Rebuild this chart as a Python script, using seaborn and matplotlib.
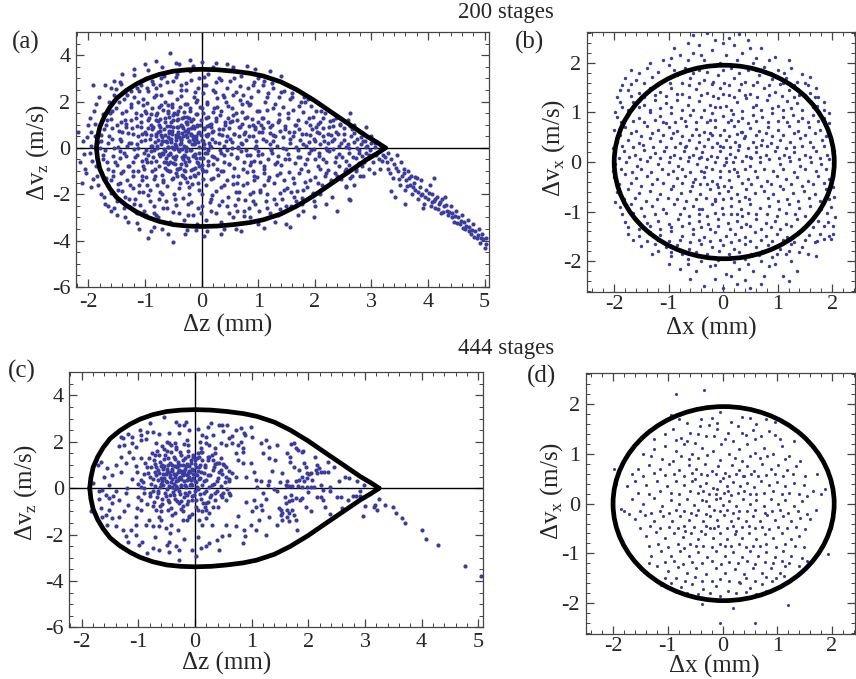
import numpy as np
import pandas as pd
import seaborn as sns
import matplotlib
matplotlib.use("Agg")
import matplotlib.pyplot as plt
from matplotlib.patches import Ellipse
from matplotlib.ticker import MultipleLocator

# ---------------- data ----------------
titles = ["200 stages", "444 stages"]
panel_tags = ["(a)", "(b)", "(c)", "(d)"]

# separatrix (longitudinal)
sep_z = [-1.86, -1.84, -1.80, -1.72, -1.62, -1.50, -1.33, -1.15, -0.97, -0.75, -0.50, -0.25, 0.0,
         0.28, 0.56, 0.85, 1.09, 1.40, 1.68, 1.99, 2.33, 2.62, 2.92, 3.10, 3.25]
sep_v_up = [0.0, 0.45, 0.90, 1.35, 1.76, 2.14, 2.48, 2.76, 2.98, 3.17, 3.31, 3.37, 3.39,
            3.37, 3.31, 3.22, 3.10, 2.85, 2.51, 2.05, 1.48, 1.00, 0.50, 0.24, 0.0]
sep_v_dn = [-0.0, -0.45, -0.90, -1.35, -1.76, -2.14, -2.48, -2.76, -2.98, -3.17, -3.31, -3.37, -3.39,
            -3.37, -3.31, -3.22, -3.10, -2.85, -2.51, -2.05, -1.48, -1.00, -0.50, -0.24, -0.0]

# transverse acceptance ellipse (center, full width, full height)
ell_center = (0.02, 0.0)
ell_width = 4.04
ell_height = 3.9

pts_a1 = [
(-0.95,1.2),(-0.92,0.4),(-0.9,-0.6),(-0.88,1.7),(-0.86,0.9),(-0.85,-0.1),(-0.83,-1.2),(-0.81,0.6),(-0.8,1.4),(-0.78,0.1),
(-0.76,-0.8),(-0.75,1.0),(-0.73,-0.35),(-0.72,1.85),(-0.7,0.45),(-0.69,-1.4),(-0.67,0.8),(-0.66,-0.05),(-0.64,1.3),(-0.63,-0.6),
(-0.61,0.25),(-0.6,1.6),(-0.58,-1.0),(-0.57,0.65),(-0.55,-0.25),(-0.54,1.1),(-0.52,0.05),(-0.51,-1.3),(-0.5,0.9),(-0.48,1.5),
(-0.47,-0.5),(-0.46,0.35),(-0.44,-0.9),(-0.43,1.2),(-0.42,0.6),(-0.4,-0.15),(-0.39,1.75),(-0.38,0.15),(-0.36,-0.7),(-0.35,0.95),
(-0.34,-1.15),(-0.33,0.5),(-0.31,1.35),(-0.3,-0.35),(-0.29,0.75),(-0.27,0.0),(-0.26,-1.45),(-0.25,1.05),(-0.23,0.3),(-0.22,-0.55),
(-0.21,1.6),(-0.19,0.55),(-0.18,-0.95),(-0.17,0.15),(-0.15,1.25),(-0.14,-0.3),(-0.13,0.85),(-0.11,-1.2),(-0.1,0.4),(-0.09,1.45),
(-0.07,-0.65),(-0.06,0.65),(-0.05,0.05),(-0.03,1.0),(-0.02,-0.45),(0.0,1.7),(0.02,0.3),(0.03,-1.0),(0.05,0.8),(0.06,-0.2),
(0.08,1.3),(0.1,0.5),(0.11,-0.75),(0.13,1.0),(0.15,0.1),(0.17,-1.35),(0.19,0.7),(0.2,1.55),(0.22,-0.4),(0.24,0.25),
(0.26,1.15),(0.28,-0.9),(0.3,0.6),
(-0.68,0.3),(-0.65,0.55),(-0.62,0.95),(-0.6,-0.3),(-0.59,0.05),(-0.56,0.4),(-0.53,0.75),(-0.5,1.2),(-0.49,-0.05),(-0.45,0.55),
(-0.41,0.9),(-0.37,0.35),(-0.35,-0.4),(-0.32,0.1),(-0.28,1.1),(-0.24,0.7),(-0.2,-0.1),(-0.16,0.5),(-0.12,0.2),(-0.08,0.95),
(-0.04,-0.2),(-0.01,0.55),(-0.58,1.35),(-0.47,0.15),(-0.44,1.45),(-0.4,0.45),(-0.33,0.85),(-0.29,-0.6),(-0.25,0.45),(-0.22,1.3),
(-0.18,0.85),(-0.14,0.35),(-0.1,-0.45),(-0.7,-0.2),(-0.74,0.75),(-0.77,1.15),(-0.82,0.25),(-0.64,-0.85),(-0.55,-0.6),(-0.46,-1.1),
(-0.38,-0.85),(-0.3,-1.0),(-0.2,-1.25),(-0.12,-0.85),(-0.06,-1.5),(0.0,-0.75),(0.04,0.15),(0.07,0.55),(0.12,-0.1),(0.16,0.9),
(-0.9,0.1),(-0.95,-0.3),(-1.0,0.7),(-1.02,-0.9),(-0.98,1.5),(-0.52,1.9),(-0.3,1.9),(-0.1,2.0),(0.1,1.9),
(-1.78,0.3),(-1.75,-0.5),(-1.72,0.8),(-1.7,-0.1),(-1.68,1.2),(-1.66,-0.9),(-1.63,0.5),(-1.6,-1.4),(-1.58,1.6),(-1.55,0.0),
(-1.53,-0.6),(-1.5,1.0),(-1.48,-1.8),(-1.46,2.0),(-1.44,0.4),(-1.42,-1.1),(-1.4,1.5),(-1.38,-0.2),(-1.36,-2.1),(-1.34,0.9),
(-1.32,2.3),(-1.3,-0.8),(-1.28,0.2),(-1.26,-1.6),(-1.24,1.9),(-1.22,0.6),(-1.2,-2.4),(-1.18,-0.4),(-1.16,1.3),(-1.14,2.6),
(-1.12,0.0),(-1.1,-1.9),(-1.08,0.9),(-1.06,-1.2),(-1.04,2.1),(-1.02,-2.7),(-1.0,1.6),(-0.98,-0.5),(-1.15,-2.8),(-1.25,2.45),
(-1.45,-1.5),(-1.62,1.5),(-1.69,-1.3),(-1.57,-1.0),(-1.35,1.2),(-1.21,-1.0),
(-0.96,2.6),(-0.92,-2.3),(-0.88,2.9),(-0.85,-2.8),(-0.8,2.3),(-0.77,-3.0),(-0.73,2.7),(-0.7,-2.0),(-0.66,3.1),(-0.62,-2.6),
(-0.58,2.4),(-0.55,-3.2),(-0.5,2.9),(-0.47,-2.2),(-0.43,3.2),(-0.4,-2.8),(-0.36,2.5),(-0.32,-3.1),(-0.28,2.8),(-0.24,-2.4),
(-0.2,3.3),(-0.16,-2.9),(-0.12,2.4),(-0.08,-3.3),(-0.04,3.0),(0.0,-2.5),(0.04,2.7),(0.08,-3.1),(0.12,3.2),(0.16,-2.2),
(0.2,2.5),(0.25,-2.8),(0.3,3.0),(0.35,-3.2),(0.4,2.2),(0.45,-2.5),(0.5,2.9),(0.55,-3.0),(0.6,2.4),(0.65,-2.2),
(0.7,3.1),(0.75,-2.7),(0.8,2.0),(0.85,-3.0),(0.9,2.7),(0.95,-2.4),(1.0,3.0),
(0.32,1.4),(0.35,-0.2),(0.38,0.8),(0.4,-1.6),(0.43,0.3),(0.46,1.8),(0.48,-0.7),(0.5,1.1),(0.53,0.0),(0.56,-1.2),
(0.58,0.6),(0.6,1.5),(0.63,-0.4),(0.66,-1.9),(0.68,0.9),(0.7,0.2),(0.73,-0.9),(0.76,1.3),(0.78,-0.1),(0.8,-1.5),
(0.83,0.5),(0.86,1.9),(0.88,-0.6),(0.9,1.0),(0.93,-1.2),(0.96,0.1),(0.98,1.6),(1.0,-0.3),(1.03,-1.8),(1.06,0.7),
(1.08,1.3),(1.1,-0.8),(1.13,0.3),(1.16,2.2),(1.18,-1.4),(1.2,0.9),(1.23,-0.1),(1.26,1.7),(1.28,-2.2),(1.3,0.5),
(1.33,-0.6),(1.36,1.2),(1.38,-1.1),(1.4,2.4),(1.43,0.0),(1.46,-1.8),(1.48,0.8),(1.5,-2.5),(1.15,-2.6),(1.25,2.8),
(1.35,-2.9),(1.1,2.9),(0.45,0.5),(0.55,1.4),(0.65,0.0),(0.75,0.6),(0.85,-0.3),(0.95,0.9),(0.35,-1.0),(0.42,1.1),
(0.62,-1.5),(0.72,1.9),(0.9,-1.9),(1.05,1.0),
(1.52,1.5),(1.55,-0.5),(1.57,0.4),(1.6,2.2),(1.62,-1.3),(1.65,1.0),(1.67,-2.3),(1.7,-0.1),(1.72,1.8),(1.75,-0.9),
(1.77,0.6),(1.8,-1.8),(1.82,2.0),(1.85,0.1),(1.87,-0.5),(1.9,1.3),(1.92,-1.4),(1.95,0.8),(1.97,-2.0),(2.0,0.3),
(2.02,1.6),(2.05,-0.8),(2.08,-0.2),(2.1,1.1),(2.12,-1.6),(2.15,0.5),(2.18,1.5),(2.2,-1.1),(2.22,-0.1),(2.25,0.9),
(2.28,-1.4),(2.3,0.3),(2.33,1.2),(2.35,-0.6),(2.38,0.7),(2.4,-1.2),(2.43,0.1),(2.45,1.0),(2.48,-0.4),(1.58,-1.9),
(1.68,2.5),(1.78,-2.4),(1.88,2.1),(1.98,-2.3),(2.1,-2.0),(1.64,0.7),(1.74,-0.4),(1.84,1.1),(1.94,-0.1),(2.04,0.7),
(2.14,-0.5),(2.24,0.6),
(2.52,0.6),(2.55,-0.9),(2.58,1.2),(2.6,0.0),(2.63,-1.3),(2.65,0.8),(2.68,-0.4),(2.7,1.0),(2.73,-1.0),(2.75,0.4),
(2.78,-0.2),(2.8,0.7),(2.83,-0.8),(2.86,0.3),(2.88,-0.5),(2.9,0.9),(2.93,0.1),(2.96,-0.3),(3.0,0.5),(3.03,-0.6),
(3.06,0.2),(3.1,-0.2),(3.13,-0.5),(3.17,0.1),(2.55,-1.7),(2.62,1.5),(2.7,-1.6),(2.85,-1.2),(3.2,-0.3),
(-2.15,-0.6),(-2.1,0.3),(-2.05,-1.1),(-2.0,1.0),(-1.98,-0.2),(-1.95,-1.7),(-1.9,1.6),(-1.88,0.5),(-1.85,-1.2),(-1.82,2.2),
(-1.78,-2.0),(-1.7,2.7),(-1.65,-2.5),(-1.55,2.9),(-1.5,-2.9),(-1.4,3.2),(-1.3,-3.2),(-1.2,3.4),(-1.1,-3.5),(-1.0,3.6),
(-0.9,-3.6),(-0.8,3.75),(-0.7,-3.5),(-0.55,4.1),(-0.5,-4.05),(-0.4,3.6),(-0.3,-3.7),(-0.2,3.8),(-0.1,-3.55),(0.0,3.7),
(0.1,-3.6),(0.2,3.5),(0.35,-3.7),(0.45,3.6),(0.6,-3.5),(0.8,3.55),(1.0,-3.3),(1.2,3.3),(1.5,-3.3),(1.7,-2.9),
(2.4,-2.7),(2.6,-2.2),(2.2,-2.4),(1.4,3.1),(-2.18,0.7),(-2.12,-1.5),(-1.92,2.7),(-0.95,-3.9),(1.56,-3.4),(1.98,-2.98),
]

pts_a2 = [
(-2.06,-0.9),(-2.03,0.45),(-2.08,-0.25),(-1.96,0.7),(-1.93,-0.55),(-1.97,1.3),(-1.92,-1.35),(-1.95,0.1),
(-1.86,-0.8),(-1.83,0.25),(-1.88,1.05),(-1.84,-1.6),(-1.87,1.9),(-1.77,0.55),(-1.74,-0.3),(-1.78,-1.05),(-1.75,1.45),(-1.73,-2.1),(-1.79,0.0),
(-1.68,-0.6),(-1.65,0.2),(-1.69,1.0),(-1.66,-1.6),(-1.64,2.0),(-1.7,-2.4),(-1.67,1.55),
(-1.59,0.4),(-1.56,-0.35),(-1.6,1.25),(-1.57,-1.2),(-1.55,2.3),(-1.61,-1.95),(-1.58,0.85),(-1.54,-2.6),
(-1.5,-0.75),(-1.47,0.05),(-1.51,1.7),(-1.48,-1.55),(-1.46,0.75),(-1.52,2.55),(-1.49,-2.3),(-1.45,-0.15),
(-1.42,0.3),(-1.39,-1.0),(-1.43,1.1),(-1.4,-1.85),(-1.38,2.1),(-1.44,-0.45),(-1.41,0.7),(-1.37,-2.6),(-1.42,2.75),
(-1.33,-0.35),(-1.3,0.65),(-1.34,1.6),(-1.31,-1.4),(-1.29,-2.2),(-1.35,2.4),(-1.32,0.1),(-1.28,-0.8),(-1.33,1.05),
(-1.24,0.2),(-1.21,-0.6),(-1.25,1.2),(-1.22,-1.75),(-1.2,2.2),(-1.26,-2.55),(-1.23,0.85),(-1.19,-0.05),(-1.24,1.75),(-1.21,-1.2),
(-1.15,-0.3),(-1.12,0.5),(-1.16,1.5),(-1.13,-1.0),(-1.11,2.45),(-1.17,-2.2),(-1.14,0.95),(-1.1,-1.6),(-1.15,0.15),(-1.12,2.0),(-1.16,-2.75),
(-1.07,0.3),(-1.04,-0.8),(-1.08,1.1),(-1.05,-1.4),(-1.03,1.85),(-1.09,-2.45),(-1.06,0.6),(-1.02,-0.2),(-1.07,2.7),(-1.04,-1.9),(-1.08,1.4),(-1.05,-0.55),
(-0.98,-0.1),(-0.95,0.85),(-0.99,-1.25),(-0.96,1.95),(-0.94,-2.05),(-1.0,0.35),(-0.97,-0.6),(-0.93,1.3),(-0.98,-2.9),(-0.95,2.45),(-0.99,0.6),(-0.96,-1.6),
(-0.89,0.55),(-0.86,-0.4),(-0.9,1.45),(-0.87,-1.0),(-0.85,2.2),(-0.91,-1.8),(-0.88,0.1),(-0.84,-2.5),(-0.89,1.0),(-0.86,2.75),(-0.9,-0.15),(-0.87,0.8),(-0.85,-1.35),
(-0.8,-0.55),(-0.77,0.35),(-0.81,1.2),(-0.78,-1.6),(-0.76,1.75),(-0.82,-0.9),(-0.79,0.0),(-0.75,-2.2),(-0.8,2.6),(-0.77,0.7),(-0.81,-2.9),(-0.78,1.5),(-0.76,-0.25),(-0.8,0.5),
(-0.72,0.15),(-0.69,-0.25),(-0.73,0.9),(-0.7,-1.15),(-0.68,1.65),(-0.74,-1.9),(-0.71,0.55),(-0.67,-0.6),(-0.72,2.3),(-0.69,-2.6),(-0.73,1.25),(-0.7,0.3),(-0.68,-1.45),(-0.72,3.0),
(-0.63,-0.45),(-0.6,0.45),(-0.64,1.1),(-0.61,-0.95),(-0.59,0.05),(-0.65,2.0),(-0.62,-1.65),(-0.58,0.75),(-0.63,-2.3),(-0.6,1.5),(-0.64,-0.15),(-0.61,2.85),(-0.59,-0.7),(-0.63,0.3),(-0.6,1.85),
(-0.54,0.25),(-0.51,-0.65),(-0.55,0.95),(-0.52,-1.35),(-0.5,1.4),(-0.56,-0.2),(-0.53,0.6),(-0.49,-2.0),(-0.54,2.4),(-0.51,0.0),(-0.55,-1.0),(-0.52,1.75),(-0.5,-2.75),(-0.54,0.4),(-0.51,-0.4),
(-0.45,-0.35),(-0.42,0.7),(-0.46,0.1),(-0.43,-1.2),(-0.41,1.25),(-0.47,-0.7),(-0.44,2.1),(-0.4,-1.75),(-0.45,0.45),(-0.42,1.6),(-0.46,-2.45),(-0.43,0.9),(-0.41,-0.05),(-0.45,3.05),(-0.42,-0.9),
(-0.36,0.4),(-0.33,-0.5),(-0.37,1.0),(-0.34,-0.05),(-0.32,1.55),(-0.38,-1.5),(-0.35,0.65),(-0.31,-0.95),(-0.36,2.25),(-0.33,-2.15),(-0.37,0.2),(-0.34,1.3),(-0.32,-0.3),(-0.36,2.7),(-0.33,-1.2),
(-0.27,-0.15),(-0.24,0.8),(-0.28,-0.75),(-0.25,1.35),(-0.23,0.3),(-0.29,-1.3),(-0.26,1.9),(-0.22,-2.0),(-0.27,0.55),(-0.24,-0.45),(-0.28,2.5),(-0.25,1.1),(-0.23,-1.7),(-0.27,0.05),(-0.24,-2.9),
(-0.18,0.6),(-0.15,-0.35),(-0.19,1.15),(-0.16,-0.9),(-0.14,0.15),(-0.2,1.7),(-0.17,-1.55),(-0.13,2.2),(-0.18,-2.35),(-0.15,0.95),(-0.19,-0.1),(-0.16,0.4),(-0.14,-1.15),(-0.18,2.95),
(-0.09,-0.6),(-0.06,0.25),(-0.1,1.45),(-0.07,-1.1),(-0.05,0.7),(-0.11,-0.25),(-0.08,2.05),(-0.04,-1.8),(-0.09,1.0),(-0.06,-2.6),(-0.1,0.5),(-0.07,2.6),(-0.05,-0.8),
(0.0,0.35),(0.03,-0.45),(-0.01,1.2),(0.02,-1.35),(0.04,0.0),(-0.02,1.75),(0.01,-2.0),(0.05,0.85),(0.0,-0.9),(0.03,2.35),(-0.01,-2.8),(0.02,1.5),(0.04,3.05),
(0.09,-0.2),(0.12,0.6),(0.08,-1.0),(0.11,1.35),(0.13,0.2),(0.07,-1.6),(0.1,2.0),(0.14,-2.35),(0.09,0.95),(0.12,-0.55),(0.08,2.7),
(0.18,0.4),(0.21,-0.7),(0.17,1.05),(0.2,-1.3),(0.22,1.7),(0.16,0.05),(0.19,-2.05),(0.23,2.4),(0.18,-0.35),(0.21,0.75),(0.17,-2.7),
(0.27,-0.5),(0.3,0.2),(0.26,1.3),(0.29,-1.15),(0.31,0.8),(0.25,-1.85),(0.28,2.15),(0.32,-0.1),(0.27,1.75),(0.3,-2.45),(0.26,2.85),
(0.36,0.55),(0.39,-0.3),(0.35,1.6),(0.38,-1.0),(0.4,0.1),(0.34,-1.7),(0.37,2.3),(0.41,1.0),(0.36,-2.3),(0.39,-0.6),(0.35,2.95),
(0.45,-0.1),(0.48,0.85),(0.44,-1.4),(0.47,1.3),(0.49,-0.7),(0.43,2.0),(0.46,-2.1),(0.5,0.4),(0.45,2.6),(0.48,-2.8),
(0.54,0.25),(0.57,-0.85),(0.53,1.7),(0.56,-1.55),(0.58,0.6),(0.52,-0.25),(0.55,2.3),(0.59,-2.45),(0.54,1.15),(0.57,3.0),
(0.63,-0.45),(0.66,0.5),(0.62,1.2),(0.65,-1.2),(0.67,2.05),(0.61,-1.9),(0.64,0.05),(0.68,2.65),(0.63,-2.7),(0.66,0.9),
(0.72,0.15),(0.75,-0.6),(0.71,1.55),(0.74,-1.6),(0.76,0.7),(0.7,-0.15),(0.73,2.3),(0.77,-2.25),(0.72,1.05),(0.75,-2.95),
(0.81,-0.3),(0.84,0.95),(0.8,-1.05),(0.83,1.85),(0.85,-2.0),(0.79,0.35),(0.82,2.6),(0.86,-0.75),(0.81,1.35),(0.84,-2.6),
(0.9,0.5),(0.93,-0.55),(0.89,1.25),(0.92,-1.4),(0.94,0.0),(0.88,2.2),(0.91,-2.3),(0.95,0.8),(0.9,-1.0),(0.93,2.85),
(0.99,-0.15),(1.02,0.7),(0.98,-1.25),(1.01,1.6),(1.03,-1.9),(0.97,0.3),(1.0,2.45),(1.04,-0.6),(0.99,1.1),(1.02,-2.7),
(1.08,0.4),(1.11,-0.9),(1.07,1.3),(1.1,-1.6),(1.12,2.0),(1.06,-0.25),(1.09,0.85),(1.13,-2.3),(1.08,2.7),(1.11,-1.1),
(1.17,-0.5),(1.2,0.15),(1.16,1.65),(1.19,-1.25),(1.21,0.65),(1.15,-2.0),(1.18,2.35),(1.22,-0.05),(1.17,1.1),(1.2,-2.8),
(1.26,0.3),(1.29,-0.7),(1.25,1.0),(1.28,-1.5),(1.3,1.9),(1.24,-0.2),(1.27,2.6),(1.31,-2.4),(1.26,0.55),
(1.35,-0.35),(1.38,0.75),(1.34,-1.15),(1.37,1.45),(1.39,-1.95),(1.33,0.1),(1.36,2.2),(1.4,-0.75),(1.35,1.1),(1.38,-2.65),
(1.44,0.45),(1.47,-0.5),(1.43,1.75),(1.46,-1.4),(1.48,0.95),(1.42,-2.2),(1.45,2.45),(1.49,-0.05),
(1.53,-0.25),(1.56,0.2),(1.52,1.3),(1.55,-1.05),(1.57,2.1),(1.51,-1.75),(1.54,0.7),(1.58,-2.5),
(1.62,0.5),(1.65,-0.65),(1.61,1.65),(1.64,-1.5),(1.66,0.05),(1.6,2.35),(1.63,-2.1),(1.67,1.0),
(1.71,-0.4),(1.74,0.35),(1.7,1.2),(1.73,-1.1),(1.75,2.0),(1.69,-1.85),(1.72,0.8),
(1.8,0.15),(1.83,-0.7),(1.79,1.55),(1.82,-1.45),(1.84,0.6),(1.78,-2.15),(1.81,2.2),
(1.89,-0.2),(1.92,0.55),(1.88,-1.0),(1.91,1.0),(1.93,1.8),(1.87,-1.7),(1.9,0.25),
(1.98,0.4),(2.01,-0.5),(1.97,1.35),(2.0,-1.25),(2.02,0.9),(1.96,-1.95),(1.99,-0.05),
(2.07,-0.35),(2.1,0.15),(2.06,1.05),(2.09,-0.9),(2.11,1.6),(2.05,-1.5),(2.08,0.65),
(2.16,0.3),(2.19,-0.6),(2.15,1.3),(2.18,-1.2),(2.2,0.0),(2.14,0.85),(2.17,-1.7),
(2.25,-0.15),(2.28,0.55),(2.24,-0.95),(2.27,1.15),(2.29,-1.45),(2.23,0.2),
(2.34,0.4),(2.37,-0.4),(2.33,0.95),(2.36,-1.1),(2.38,1.3),(2.32,-0.05),
(2.43,-0.25),(2.46,0.2),(2.42,-0.8),(2.45,1.05),(2.47,-1.35),(2.41,0.6),
(2.52,0.35),(2.55,-0.55),(2.51,0.85),(2.54,-1.0),(2.56,0.05),
(2.61,-0.2),(2.64,0.5),(2.6,-0.75),(2.63,0.95),(2.65,-1.2),(2.59,0.15),
(2.7,0.25),(2.73,-0.45),(2.69,0.65),(2.72,-0.9),(2.74,0.0),
(2.79,-0.1),(2.82,0.45),(2.78,-0.65),(2.81,0.15),(2.83,-0.35),
(2.88,0.3),(2.91,-0.2),(2.87,-0.6),(2.9,0.05),(2.97,-0.1),(3.0,0.2),(2.96,-0.45),(3.06,0.05),(3.09,-0.3),(3.15,-0.15),(3.18,-0.55),
(-1.6,2.6),(-1.45,2.85),(-1.2,3.15),(-0.95,3.35),(-0.7,3.5),(-0.45,3.65),(-0.15,3.55),(0.25,3.65),(0.55,3.5),(0.95,3.4),
(-1.6,-2.7),(-1.35,-3.0),(-1.15,-3.25),(-0.85,-3.4),(-0.6,-3.7),(-0.25,-3.55),(0.05,-3.8),(0.4,-3.5),(0.7,-3.6),(1.1,-3.45),
(1.3,-3.2),(1.8,-2.7),(2.0,-2.5),(2.3,-2.1),(2.55,-1.65),(2.8,-1.2),(2.95,-0.9),
]

# tail of particles outside the separatrix (panel a)
pts_a_tail = [
(3.25,-0.4),(3.3,-0.2),(3.3,-0.9),(3.35,-0.5),(3.38,-1.3),(3.4,-0.7),(3.45,-0.3),(3.47,-1.0),(3.5,-1.6),(3.52,-0.6),
(3.55,-1.2),(3.58,-0.9),(3.6,-1.8),(3.62,-1.4),(3.65,-1.0),(3.68,-1.6),(3.7,-1.2),(3.72,-2.0),(3.75,-1.5),(3.78,-1.8),
(3.8,-1.3),(3.83,-2.2),(3.86,-1.7),(3.88,-1.4),(3.9,-2.0),(3.93,-2.4),(3.96,-1.8),(4.0,-2.2),(4.03,-1.6),(4.05,-2.5),
(4.08,-2.0),(4.1,-2.3),(4.13,-2.6),(4.16,-2.1),(4.2,-2.4),(4.23,-2.8),(4.25,-2.2),(4.28,-2.5),(4.3,-2.1),(4.33,-2.7),
(4.36,-2.9),(4.4,-2.5),(4.43,-2.8),(4.46,-3.2),(4.5,-2.7),(4.53,-3.0),(4.56,-3.3),(4.6,-2.9),(4.63,-3.2),(4.66,-3.5),
(4.7,-3.1),(4.73,-3.4),(4.76,-3.7),(4.8,-3.3),(4.83,-3.6),(4.86,-3.9),(4.9,-3.5),(4.93,-3.9),(4.96,-3.7),(5.0,-4.3),
(5.03,-3.9),(3.42,-2.1),(3.6,-2.4),(3.35,-1.85),(4.1,-1.3),(3.15,-0.9),(3.05,-1.1),(2.63,-2.25),(3.92,-2.6),
(3.28,-0.6),(3.33,-1.1),(3.43,-0.85),(3.48,-1.35),(3.57,-1.1),(3.63,-1.65),(3.67,-1.3),(3.73,-1.7),(3.77,-1.25),(3.82,-1.9),
(3.87,-2.05),(3.95,-2.1),(4.02,-1.95),(4.07,-2.35),(4.12,-2.2),(4.18,-2.65),(4.22,-2.35),(4.27,-2.75),(4.32,-2.45),(4.38,-2.75),
(4.42,-3.0),(4.48,-2.95),(4.52,-3.25),(4.58,-3.15),(4.62,-3.45),(4.68,-3.35),(4.72,-3.6),(4.78,-3.55),(4.82,-3.85),(4.88,-3.75),
(4.92,-4.1),(4.98,-3.95),(5.02,-4.15),
]

pts_b1 = [
(-0.55,2.55),(-0.3,2.6),(0.1,2.5),(0.3,2.58),(-0.45,2.35),(0.0,2.4),(0.2,2.35),
(-1.1,2.05),(-0.8,2.15),(-0.55,2.2),(-0.2,2.25),(0.05,2.15),(0.35,2.2),(0.6,2.1),(0.85,2.05),(-0.35,2.05),(0.5,2.3),
(-1.7,1.85),(-1.4,1.9),(-1.0,1.95),(-0.7,1.9),(-0.45,1.85),(-0.15,1.95),(0.15,1.9),(0.45,1.85),(0.75,1.92),(1.0,1.85),(1.25,1.9),(-1.8,1.7),
(-1.85,1.55),(-1.6,1.65),(-1.3,1.72),(-1.05,1.68),(-0.85,1.75),(-0.6,1.7),(-0.35,1.65),(-0.1,1.75),(0.2,1.7),(0.4,1.62),(0.65,1.75),
(0.9,1.68),(1.15,1.7),(1.35,1.62),(1.55,1.55),(-0.2,1.58),(0.55,1.55),
(-1.95,1.3),(-1.75,1.45),(-1.55,1.4),(-1.35,1.5),(-1.15,1.42),(-0.95,1.5),(-0.75,1.38),(-0.5,1.48),(-0.3,1.4),(-0.05,1.5),
(0.1,1.35),(0.3,1.45),(0.5,1.38),(0.75,1.5),(0.95,1.42),(1.2,1.45),(1.4,1.35),(1.6,1.4),(1.75,1.3),(-0.62,1.55),(0.02,1.6),(1.05,1.58),
(-1.85,1.1),(-1.65,1.2),(-1.45,1.15),(-1.25,1.25),(-1.05,1.18),(-0.85,1.25),(-0.65,1.15),(-0.45,1.22),(-0.25,1.15),(-0.1,1.28),
(0.05,1.12),(0.25,1.2),(0.42,1.28),(0.6,1.15),(0.8,1.25),(1.0,1.12),(1.18,1.22),(1.35,1.18),(1.55,1.25),(1.72,1.12),(1.85,1.05),
(-0.55,1.05),(0.15,1.05),(0.7,1.05),
(-1.95,0.9),(-1.75,0.95),(-1.55,0.88),(-1.35,1.0),(-1.15,0.92),(-0.95,0.98),(-0.78,0.88),(-0.6,0.95),(-0.4,0.9),(-0.2,0.98),
(0.0,0.92),(0.18,0.96),(0.35,0.88),(0.55,0.95),(0.72,0.9),(0.9,0.98),(1.1,0.9),(1.28,0.95),(1.45,0.88),(1.65,0.95),(1.85,0.88),
(-0.3,0.8),(0.45,0.78),(-1.05,0.78),
(-2.0,0.65),(-1.8,0.7),(-1.6,0.62),(-1.4,0.72),(-1.2,0.65),(-1.0,0.7),(-0.85,0.62),(-0.68,0.72),(-0.5,0.66),(-0.35,0.6),
(-0.15,0.7),(0.02,0.65),(0.2,0.72),(0.32,0.6),(0.5,0.68),(0.65,0.62),(0.82,0.7),(1.0,0.65),(1.2,0.72),(1.38,0.62),(1.58,0.7),
(1.78,0.65),(1.95,0.6),(-0.58,0.55),(0.1,0.52),(0.9,0.52),
(-1.95,0.4),(-1.75,0.45),(-1.55,0.38),(-1.35,0.48),(-1.15,0.42),(-0.95,0.48),(-0.8,0.38),(-0.62,0.45),(-0.45,0.4),(-0.28,0.47),
(-0.12,0.38),(0.05,0.45),(0.22,0.4),(0.38,0.48),(0.55,0.4),(0.72,0.45),(0.88,0.38),(1.05,0.45),(1.22,0.4),(1.42,0.48),(1.6,0.4),
(1.82,0.45),(2.0,0.35),(-0.2,0.3),(0.45,0.28),(-1.05,0.3),(1.3,0.3),
(-2.0,0.15),(-1.82,0.22),(-1.62,0.15),(-1.45,0.25),(-1.25,0.18),(-1.08,0.22),(-0.9,0.15),(-0.72,0.22),(-0.55,0.15),(-0.38,0.2),
(-0.22,0.12),(-0.05,0.22),(0.12,0.16),(0.28,0.24),(0.42,0.12),(0.6,0.2),(0.78,0.15),(0.95,0.22),(1.12,0.15),(1.3,0.2),(1.5,0.14),
(1.7,0.22),(1.9,0.15),(-0.3,0.05),(0.35,0.02),(0.85,0.05),
(-1.98,-0.05),(-1.78,0.0),(-1.58,-0.08),(-1.4,0.02),(-1.2,-0.05),(-1.0,0.0),(-0.82,-0.08),(-0.65,0.02),(-0.48,-0.05),(-0.32,-0.1),
(-0.15,0.0),(0.02,-0.06),(0.18,0.0),(0.5,-0.08),(0.68,0.0),(1.05,-0.05),(1.22,0.02),(1.42,-0.08),(1.62,0.0),(1.8,-0.05),(2.02,-0.02),
(-0.05,-0.18),(0.25,-0.2),(-0.6,-0.2),
(-2.0,-0.3),(-1.8,-0.25),(-1.6,-0.32),(-1.4,-0.28),(-1.22,-0.35),(-1.02,-0.25),(-0.85,-0.32),(-0.7,-0.28),(-0.52,-0.35),(-0.35,-0.3),
(-0.2,-0.38),(-0.05,-0.3),(0.1,-0.36),(0.28,-0.28),(0.45,-0.35),(0.62,-0.3),(0.8,-0.38),(0.98,-0.28),(1.15,-0.35),(1.35,-0.3),
(1.55,-0.38),(1.75,-0.28),(1.95,-0.35),(-0.3,-0.45),(0.15,-0.5),(0.7,-0.48),
(-1.95,-0.6),(-1.75,-0.55),(-1.55,-0.62),(-1.35,-0.58),(-1.15,-0.65),(-0.95,-0.55),(-0.78,-0.62),(-0.6,-0.58),(-0.42,-0.65),(-0.25,-0.55),
(-0.08,-0.62),(0.08,-0.58),(0.25,-0.65),(0.42,-0.55),(0.58,-0.62),(0.75,-0.58),(0.92,-0.65),(1.1,-0.55),(1.28,-0.62),(1.48,-0.58),
(1.68,-0.65),(1.88,-0.55),(2.03,-0.7),(-0.5,-0.75),(0.3,-0.78),(1.0,-0.78),
(-1.9,-0.9),(-1.7,-0.85),(-1.5,-0.92),(-1.3,-0.88),(-1.1,-0.95),(-0.9,-0.85),(-0.72,-0.92),(-0.55,-0.88),(-0.38,-0.95),(-0.2,-0.85),
(-0.02,-0.92),(0.15,-0.88),(0.32,-0.95),(0.5,-0.85),(0.68,-0.92),(0.85,-0.88),(1.02,-0.95),(1.2,-0.85),(1.4,-0.92),(1.6,-0.88),
(1.8,-0.95),(1.98,-0.9),(-0.8,-1.05),(0.0,-1.05),(0.6,-1.05),
(-1.8,-1.2),(-1.6,-1.15),(-1.4,-1.22),(-1.2,-1.18),(-1.0,-1.25),(-0.82,-1.15),(-0.62,-1.22),(-0.45,-1.18),(-0.28,-1.25),(-0.1,-1.15),
(0.08,-1.22),(0.25,-1.18),(0.42,-1.25),(0.6,-1.15),(0.78,-1.22),(0.95,-1.18),(1.15,-1.25),(1.35,-1.15),(1.55,-1.22),(1.75,-1.18),
(1.92,-1.2),(2.02,-1.45),
(-1.75,-1.45),(-1.55,-1.5),(-1.35,-1.42),(-1.15,-1.48),(-0.95,-1.4),(-0.75,-1.5),(-0.55,-1.45),(-0.35,-1.52),(-0.15,-1.42),(0.05,-1.5),
(0.22,-1.45),(0.4,-1.52),(0.58,-1.42),(0.78,-1.5),(0.98,-1.45),(1.18,-1.52),(1.38,-1.42),(1.58,-1.48),(1.78,-1.45),(1.95,-1.5),
(-0.25,-1.35),(0.7,-1.35),
(-1.5,-1.7),(-1.25,-1.65),(-1.05,-1.72),(-0.85,-1.68),(-0.62,-1.75),(-0.4,-1.65),(-0.2,-1.72),(0.0,-1.68),(0.2,-1.75),(0.4,-1.65),
(0.6,-1.72),(0.82,-1.68),(1.05,-1.75),(1.25,-1.65),(1.45,-1.72),(1.68,-1.62),(1.85,-1.55),
(-1.3,-1.85),(-0.95,-1.9),(-0.65,-1.95),(-0.35,-1.9),(-0.1,-1.98),(0.15,-1.92),(0.4,-1.95),(0.65,-1.88),(0.9,-1.92),(1.15,-1.85),(1.7,-1.9),
(-0.8,-2.15),(-0.5,-2.2),(-0.25,-2.1),(0.05,-2.25),(0.3,-2.15),(0.55,-2.2),(0.85,-2.1),(1.1,-2.3),(-1.0,-2.05),
(-0.35,-2.5),(0.0,-2.55),(0.25,-2.45),(0.5,-2.55),(0.7,-2.45),
(-0.4,0.1),(-0.2,0.55),(0.0,0.3),(0.2,-0.15),(-0.1,-0.5),(0.35,0.6),(-0.55,-0.4),(0.5,0.1),(-0.25,0.85),(0.15,0.85),
(-0.45,-0.95),(0.4,-0.7),(-0.05,1.1),(0.25,-1.05),(-0.7,0.3),(0.7,0.35),(-0.15,-0.75),(0.05,0.0),(-0.35,-0.2),(0.3,0.35),
]

pts_b2 = [
(-0.9,2.3),(-0.15,2.45),(0.45,2.45),(0.7,2.3),(-0.65,2.4),
(-1.35,2.0),(-0.95,2.1),(-0.65,2.05),(-0.4,2.15),(-0.05,2.0),(0.25,2.05),(0.55,2.0),(0.95,2.12),(1.2,2.05),
(-1.55,1.8),(-1.2,1.82),(-0.9,1.85),(-0.55,1.8),(-0.3,1.82),(0.0,1.85),(0.3,1.8),(0.6,1.85),(0.88,1.8),(1.12,1.8),(1.45,1.78),(1.6,1.72),
(-1.9,1.45),(-1.7,1.58),(-1.45,1.6),(-1.2,1.55),(-0.98,1.6),(-0.75,1.6),(-0.45,1.6),(-0.18,1.62),(0.1,1.55),(0.32,1.58),(0.62,1.62),
(0.85,1.55),(1.1,1.6),(1.3,1.55),(1.5,1.6),(1.7,1.5),
(-1.9,1.2),(-1.7,1.32),(-1.45,1.3),(-1.25,1.35),(-1.05,1.32),(-0.85,1.38),(-0.62,1.3),(-0.4,1.35),(-0.18,1.33),(0.0,1.38),(0.2,1.3),
(0.4,1.35),(0.62,1.3),(0.85,1.35),(1.08,1.32),(1.3,1.3),(1.5,1.35),(1.68,1.3),(1.85,1.2),
(-1.98,1.0),(-1.75,1.05),(-1.55,1.1),(-1.35,1.05),(-1.15,1.08),(-0.95,1.1),(-0.75,1.05),(-0.35,1.05),(-0.15,1.1),(0.35,1.02),(0.55,1.1),
(0.9,1.08),(1.1,1.05),(1.25,1.08),(1.45,1.05),(1.65,1.1),(1.95,0.98),
(-1.88,0.8),(-1.65,0.82),(-1.45,0.8),(-1.25,0.85),(-1.1,0.8),(-0.88,0.8),(-0.7,0.82),(-0.5,0.8),(-0.15,0.85),(0.08,0.8),(0.28,0.82),
(0.6,0.82),(0.82,0.8),(1.0,0.82),(1.18,0.8),(1.38,0.82),(1.55,0.8),(1.75,0.82),(1.95,0.78),
(-1.9,0.55),(-1.7,0.58),(-1.5,0.52),(-1.3,0.58),(-1.1,0.55),(-0.92,0.58),(-0.75,0.52),(-0.45,0.55),(-0.25,0.58),(-0.05,0.55),(0.25,0.57),
(0.4,0.52),(0.6,0.55),(0.78,0.58),(1.1,0.55),(1.3,0.58),(1.5,0.55),(1.68,0.58),(1.88,0.52),
(-2.02,0.28),(-1.85,0.32),(-1.65,0.3),(-1.48,0.35),(-1.28,0.3),(-0.88,0.3),(-0.68,0.33),(-0.5,0.28),(-0.35,0.33),(-0.05,0.32),(0.12,0.3),
(0.3,0.32),(0.6,0.3),(0.8,0.33),(0.98,0.3),(1.15,0.28),(1.45,0.32),(1.65,0.3),(1.85,0.32),(2.03,0.22),
(-1.92,0.08),(-1.72,0.1),(-1.52,0.05),(-1.35,0.1),(-1.15,0.08),(-0.98,0.1),(-0.8,0.08),(-0.62,0.1),(-0.45,0.08),(-0.12,0.1),(0.05,0.08),
(0.22,0.1),(0.52,0.08),(0.68,0.1),(1.02,0.08),(1.2,0.1),(1.4,0.05),(1.6,0.1),(1.78,0.08),(1.95,0.05),
(-2.03,-0.18),(-1.88,-0.15),(-1.68,-0.2),(-1.5,-0.15),(-1.32,-0.2),(-1.12,-0.15),(-0.92,-0.18),(-0.75,-0.15),(-0.4,-0.18),(-0.2,-0.15),
(0.1,-0.18),(0.4,-0.15),(0.58,-0.18),(0.75,-0.15),(0.92,-0.18),(1.1,-0.15),(1.3,-0.2),(1.5,-0.15),(1.7,-0.18),(1.88,-0.15),
(-1.92,-0.45),(-1.7,-0.42),(-1.5,-0.48),(-1.3,-0.45),(-1.1,-0.42),(-0.92,-0.48),(-0.75,-0.42),(-0.58,-0.48),(-0.42,-0.45),(-0.12,-0.45),
(0.02,-0.48),(0.35,-0.42),(0.52,-0.45),(0.88,-0.45),(1.05,-0.48),(1.25,-0.45),(1.45,-0.48),(1.65,-0.45),(1.85,-0.42),(2.02,-0.5),
(-1.98,-0.8),(-1.82,-0.75),(-1.62,-0.72),(-1.42,-0.78),(-1.22,-0.75),(-1.02,-0.72),(-0.85,-0.75),(-0.68,-0.78),(-0.32,-0.72),(-0.15,-0.78),
(0.0,-0.75),(0.15,-0.72),(0.48,-0.75),(0.82,-0.72),(1.18,-0.75),(1.38,-0.78),(1.58,-0.72),(1.78,-0.78),(1.95,-0.75),
(-1.85,-1.05),(-1.65,-1.02),(-1.45,-1.08),(-1.25,-1.05),(-1.05,-1.02),(-0.62,-1.08),(-0.45,-1.05),(-0.3,-1.08),(-0.15,-1.02),(0.15,-1.05),
(0.35,-1.08),(0.45,-1.02),(0.8,-1.05),(0.98,-1.08),(1.15,-1.02),(1.32,-1.05),(1.5,-1.08),(1.7,-1.05),(1.9,-1.02),(2.05,-1.1),
(-1.75,-1.32),(-1.55,-1.35),(-1.35,-1.3),(-1.15,-1.35),(-0.95,-1.32),(-0.75,-1.3),(-0.55,-1.35),(-0.4,-1.32),(-0.1,-1.3),(0.12,-1.35),
(0.32,-1.32),(0.5,-1.3),(0.88,-1.32),(1.05,-1.35),(1.25,-1.3),(1.45,-1.35),(1.65,-1.32),(1.85,-1.3),(2.02,-1.3),
(-1.65,-1.58),(-1.4,-1.6),(-1.2,-1.58),(-1.0,-1.6),(-0.8,-1.58),(-0.6,-1.62),(-0.45,-1.58),(-0.25,-1.6),(-0.05,-1.58),(0.15,-1.62),
(0.3,-1.58),(0.5,-1.6),(0.7,-1.58),(0.9,-1.6),(1.1,-1.58),(1.3,-1.62),(1.5,-1.58),(1.72,-1.6),(1.98,-1.55),
(-1.2,-1.8),(-0.95,-1.82),(-0.75,-1.85),(-0.5,-1.82),(-0.3,-1.85),(-0.08,-1.8),(0.1,-1.85),(0.3,-1.82),(0.52,-1.85),(0.72,-1.8),
(0.98,-1.85),(1.2,-1.8),(1.4,-1.82),(1.55,-1.85),
(-0.65,-2.05),(-0.4,-2.0),(-0.15,-2.08),(0.2,-2.02),(0.45,-2.05),(0.7,-2.0),(0.95,-2.05),(1.25,-2.0),(1.35,-2.2),
(-0.6,-2.35),(-0.15,-2.35),(0.15,-2.3),(0.4,-2.38),(0.75,-2.3),(1.2,-2.4),
]

pts_c1 = [
(-0.55,3.06),(-0.34,2.87),(-0.28,2.73),(-0.16,2.87),(-0.19,2.73),(-0.46,2.37),(-0.64,2.34),(-0.75,2.44),(-0.84,2.44),(-0.96,2.30),
(-1.11,2.22),(-1.19,2.34),(-1.28,2.15),(-1.25,1.87),(-1.11,1.94),(-1.05,1.79),(-1.16,1.58),(-1.31,1.36),(-0.96,2.08),(-0.87,2.11),
(-0.69,1.94),(-0.49,2.01),(-0.46,1.94),(-0.34,1.79),(-0.28,2.37),(-0.14,2.08),(-0.11,2.51),(0.13,2.30),(0.19,2.22),(0.31,2.30),
(0.28,2.80),(0.22,2.65),(0.42,2.73),(0.48,2.73),(0.57,2.73),(0.72,2.51),(0.81,2.58),(0.86,2.37),(0.98,2.65),(0.89,2.30),
(0.66,1.94),(0.75,1.87),(0.81,2.01),(0.54,1.87),(0.60,2.15),(0.19,1.94),(0.25,1.87),(0.36,1.72),(0.45,1.94),(0.84,1.72),
(0.72,1.51),(0.75,1.22),(0.84,1.08),(0.98,1.08),(1.04,0.72),(1.16,1.94),(1.25,2.08),(1.31,1.79),(1.45,1.87),(1.31,1.29),
(1.42,1.22),(1.54,0.65),(1.63,1.51),(1.07,0.36),(1.16,0.29),(1.31,0.29),(1.45,-0.14),(1.63,0.29),(1.04,-0.50),(1.07,-0.79),
(1.16,-0.72),(1.19,-0.93),(1.31,-1.22),(1.51,-0.93),(1.54,-1.36),(1.13,-1.36),(0.98,-1.58),(1.07,-1.79),(1.25,-2.01),(0.86,-1.79),
(0.89,-2.08),(0.84,-2.37),(0.72,-1.65),(0.54,-1.58),(0.48,-2.08),(0.39,-2.22),(0.42,-2.65),(0.25,-2.37),(0.19,-2.51),(0.10,-2.58),
(0.01,-2.94),(-0.05,-2.65),(-0.28,-3.08),(-0.28,-2.65),(-0.34,-2.51),(-0.46,-2.30),(-0.46,-2.73),(-0.64,-2.65),(-0.75,-2.58),(-0.84,-2.80),
(-0.93,-2.30),(-0.99,-2.44),(-1.05,-2.01),(-1.14,-1.79),(-1.22,-2.08),(-1.19,-2.30),(-1.28,-1.79),(-1.40,-1.65),(-1.34,-1.22),(-1.46,-1.29),
(-1.52,-0.93),(-1.58,-1.15),(-1.64,-1.22),(-1.66,-0.86),(-1.58,-0.29),(-1.52,-0.43),(-1.46,-0.65),(-1.34,-0.50),(-1.22,-0.22),(-1.19,-0.72),
(-1.40,-0.14),(-1.64,-0.07),(-1.69,-0.14),(-1.84,-1.00),(-1.52,0.14),(-1.75,1.22),(-1.72,1.00),(-1.66,1.15),(-1.81,0.22),(-1.55,0.86),
(-1.46,0.57),(-1.31,0.72),(-1.22,1.08),(-1.02,0.72),(-0.96,0.36),(-0.96,0.07),(-0.90,0.00),(-0.69,0.93),(-0.58,1.00),(-0.69,-0.93),
(-0.64,-1.22),(-0.81,-1.36),(-0.75,-1.65),(-0.87,-1.58),(-0.96,-0.93),(-1.02,-0.86),(-1.05,-1.22),(-0.64,-1.65),(-0.52,-1.72),(-0.43,-1.58),
(-0.31,-1.79),(-0.22,-1.36),(-0.14,-1.36),(-0.11,-1.22),(0.07,-1.36),(0.13,-1.58),(0.13,-1.00),(0.25,-1.08),(0.31,-0.79),(0.19,-0.65),
(0.36,-0.22),(0.48,-0.36),(0.60,-0.22),(0.60,0.29),(0.72,0.50),(0.66,0.65),(0.54,0.50),(0.45,0.79),(0.39,1.08),(0.31,1.22),
(0.36,1.51),(0.51,1.00),(0.22,1.36),(0.10,1.58),(0.07,1.36),
(-0.85,0.9),(-0.8,0.5),(-0.78,0.2),(-0.75,-0.1),(-0.72,1.2),(-0.7,0.7),(-0.68,-0.4),(-0.66,0.35),(-0.64,1.45),(-0.62,0.05),
(-0.6,0.95),(-0.58,-0.7),(-0.57,0.6),(-0.55,1.25),(-0.53,-0.2),(-0.52,0.3),(-0.5,0.85),(-0.49,1.6),(-0.48,-0.5),(-0.46,0.1),
(-0.45,0.55),(-0.44,1.1),(-0.42,-0.85),(-0.41,0.4),(-0.4,0.75),(-0.39,-0.15),(-0.38,1.35),(-0.37,0.2),(-0.36,0.95),(-0.35,-0.45),
(-0.34,0.6),(-0.33,1.7),(-0.32,0.0),(-0.31,0.35),(-0.3,1.15),(-0.29,-0.65),(-0.28,0.8),(-0.27,0.5),(-0.26,-0.25),(-0.25,1.45),
(-0.24,0.15),(-0.23,0.65),(-0.22,-1.0),(-0.21,1.0),(-0.2,0.3),(-0.19,-0.4),(-0.18,0.85),(-0.17,1.3),(-0.16,0.05),(-0.15,0.55),
(-0.14,-0.7),(-0.13,1.6),(-0.12,0.4),(-0.11,0.95),(-0.1,-0.15),(-0.09,0.7),(-0.08,1.2),(-0.07,0.2),(-0.06,-0.5),(-0.05,0.85),
(-0.04,1.45),(-0.03,0.45),(-0.02,-0.3),(-0.01,1.05),(0.0,0.6),(0.01,-0.8),(0.02,0.25),(0.04,1.3),(0.05,0.75),(0.06,-0.05),
(0.08,0.45),(0.09,1.0),(0.1,-0.45),(0.12,0.15),(0.13,1.55),(0.15,0.65),(0.16,-0.2),(0.18,0.9),(0.2,0.35),(0.22,-0.6),
(0.23,1.2),(0.25,0.05),(0.27,0.55),(0.29,-0.3),(0.31,0.8),(0.33,0.2),(0.35,1.05),(0.38,-0.1),(0.4,0.45),(0.43,0.7),
(0.46,0.1),(0.5,-0.2),
(-0.65,0.8),(-0.61,0.45),(-0.56,0.15),(-0.54,0.95),(-0.51,0.6),(-0.47,1.3),(-0.43,0.25),(-0.4,1.0),(-0.36,0.5),(-0.34,0.1),
(-0.3,0.7),(-0.27,1.0),(-0.24,0.4),(-0.2,0.75),(-0.18,0.15),(-0.15,1.05),(-0.12,0.65),(-0.08,0.35),(-0.05,0.15),(-0.03,0.8),
(0.0,1.2),(0.03,0.55),(0.07,0.9),(-0.58,0.3),(-0.46,0.7),(-0.32,0.9),(-0.22,0.55),(-0.1,0.5),(-0.7,0.1),(-0.45,-0.3),
(-0.25,-0.55),(-0.15,-0.3),(0.0,-0.1),(-0.35,-0.05),(-0.5,-0.05),(-0.65,-0.2),(-0.8,-0.35),(-0.9,0.6),(-0.88,1.1),(-0.76,1.5),
(-0.55,1.7),(-0.42,1.85),(-0.2,1.9),(0.1,1.75),(0.3,1.45),(0.45,1.3),(0.55,0.9),(0.6,0.4),(0.55,-0.5),(0.4,-0.8),
(0.2,-0.95),(-0.05,-1.1),(-0.4,-1.15),(-0.6,-1.0),(-0.75,-0.75),(-0.95,-0.5),(-1.0,0.2),(-1.05,0.95),
(1.70,1.90),(1.75,1.96),(1.78,1.72),(1.82,1.65),(1.88,1.58),(1.67,1.36),(1.68,1.15),(1.75,0.93),(1.84,0.79),(1.93,1.08),
(1.95,0.93),(1.89,0.50),(1.98,0.65),(2.01,0.62),(2.04,0.67),(2.13,0.79),(2.16,0.65),(2.19,0.86),(2.22,0.72),(2.28,0.72),
(2.34,0.72),(2.12,1.36),(2.16,1.00),(2.07,0.36),(1.98,0.43),(1.92,0.29),(1.84,0.36),(1.78,0.29),(1.63,0.10),(1.66,0.10),
(1.72,0.10),(1.81,0.10),(1.89,0.07),(1.98,0.07),(2.04,0.07),(2.10,0.07),(2.22,0.14),(2.25,-0.07),(2.39,0.04),(2.39,-0.14),
(2.65,0.50),(2.72,0.46),(2.86,0.29),(2.98,0.14),(2.92,-0.14),(2.78,-0.33),(2.84,-0.33),(2.91,-0.33),(2.51,-0.39),(2.57,-0.39),
(2.59,-0.86),(1.69,-0.29),(1.72,-0.50),(1.66,-0.57),(1.78,-0.43),(1.86,-0.50),(1.89,-0.43),(2.16,-0.39),(2.22,-0.39),(2.25,-0.50),
(1.95,-0.79),(1.48,-0.86),(1.54,-1.08),(1.51,-1.15),(1.63,-0.93),(1.66,-1.08),(1.72,-0.93),(1.75,-1.15),(1.78,-1.36),(1.63,-1.22),
(1.66,-1.43),(2.39,-1.10),(2.97,-1.19),(3.00,-0.75),(3.16,-0.79),(3.18,-0.72),(3.22,-0.96),(3.25,-0.47),(3.36,-0.72),(3.49,-0.82),
(3.54,-1.05),(3.66,-1.29),(3.71,-1.48),(4.00,-1.82),(4.08,-2.17),(4.29,-2.45),(4.76,-3.34),(5.05,-3.80),
(1.1,0.05),(1.2,-0.2),(1.28,0.14),(1.4,-0.05),(1.5,0.25),(1.58,-0.36),(1.6,0.14),(1.6,-0.65),
]

pts_c2 = [
(-0.83,0.65),(-0.81,1.3),(-0.79,-0.2),(-0.77,0.9),(-0.74,0.4),(-0.73,-0.6),(-0.71,1.05),(-0.69,0.55),(-0.67,1.6),(-0.66,-0.1),
(-0.63,0.65),(-0.62,1.15),(-0.6,0.2),(-0.59,-0.45),(-0.57,0.85),(-0.55,0.45),(-0.53,1.45),(-0.52,-0.35),(-0.5,0.7),(-0.49,0.25),
(-0.47,1.0),(-0.46,-0.6),(-0.44,0.5),(-0.43,1.55),(-0.41,0.05),(-0.4,0.85),(-0.38,-0.3),(-0.37,0.6),(-0.35,1.25),(-0.34,0.3),
(-0.32,-0.55),(-0.31,1.0),(-0.29,0.45),(-0.28,-0.1),(-0.27,1.55),(-0.25,0.75),(-0.24,0.1),(-0.22,-0.75),(-0.21,1.2),(-0.19,0.6),
(-0.18,-0.2),(-0.16,0.95),(-0.15,0.35),(-0.13,1.4),(-0.12,-0.55),(-0.1,0.75),(-0.09,0.15),(-0.07,1.1),(-0.06,-0.35),(-0.04,0.6),
(-0.03,1.35),(-0.01,0.3),(0.01,-0.5),(0.02,0.9),(0.04,0.05),(0.05,1.5),(0.07,0.4),(0.09,-0.25),(0.1,0.7),(0.12,1.2),
(0.14,-0.65),(0.16,0.3),(0.18,1.0),(0.2,-0.1),(0.22,0.55),(0.25,1.35),(0.27,-0.4),(0.3,0.15),(0.33,0.9),(0.36,-0.5),
(0.39,0.3),(0.42,1.1),(0.45,-0.3),(0.48,0.6),(0.52,0.25),(0.56,-0.05),(-0.62,-0.75),(-0.48,-0.95),(-0.36,-1.05),(-0.24,-0.9),
(-0.1,-1.2),(0.05,-0.95),(0.18,-0.8),(-0.7,1.45),(-0.58,1.8),(-0.35,1.95),(-0.12,1.85),(0.08,2.0),(-0.92,0.25),(-0.95,1.3),
(-0.9,-0.2),(-0.85,-0.7),(0.6,0.75),(0.62,-0.3),(0.5,1.05),
(-1.6,0.5),(-1.45,-0.35),(-1.35,1.8),(-1.25,-1.0),(-1.12,0.4),(-1.05,-1.6),(-1.1,1.3),(-0.98,2.5),(-0.7,-2.1),(-0.5,-2.45),
(-0.2,-2.2),(0.05,-2.1),(0.3,-1.6),(0.6,-2.0),(0.75,-1.2),(0.9,-0.6),(0.9,0.5),(0.85,1.55),(0.65,2.25),(1.0,2.2),
(1.2,1.5),(1.35,0.75),(1.45,-1.6),(1.8,-1.8),(2.05,-1.0),(2.3,-0.8),(2.45,0.9),(2.55,0.3),(2.7,-0.5),(2.35,1.15),
(1.9,1.6),(2.0,-0.15),(1.25,-0.45),(1.0,-1.0),(-1.4,1.0),(-1.7,-0.45),(-1.55,-1.6),(-1.3,2.2),(-0.8,2.8),(0.05,2.55),
(0.5,2.45),(-0.45,-1.95),(0.2,-1.3),(-0.6,-1.35),(-1.2,0.0),(-1.0,-0.4),
]

pts_d1 = [
(-0.55,1.88),(-0.05,1.85),(0.35,1.75),(-0.95,1.78),(-0.2,1.72),(0.62,1.6),(-0.25,1.58),(0.95,1.65),(-0.65,1.62),
(-1.25,1.3),(-0.9,1.5),(-0.6,1.42),(-0.42,1.55),(-0.3,1.35),(-0.1,1.5),(0.1,1.42),(0.28,1.55),(0.42,1.38),(0.55,1.48),
(0.7,1.35),(0.85,1.45),(1.05,1.3),(-0.75,1.32),(0.2,1.25),(-0.5,1.22),
(-1.45,1.0),(-1.25,1.1),(-1.05,1.15),(-0.85,1.05),(-0.7,1.2),(-0.55,1.0),(-0.38,1.12),(-0.18,1.05),(-0.02,1.2),(0.12,1.0),
(0.3,1.1),(0.45,1.2),(0.6,1.02),(0.75,1.12),(0.92,1.0),(1.08,1.15),(1.22,0.95),(-0.05,0.88),(0.35,0.85),(-0.9,0.85),
(-1.55,0.7),(-1.35,0.78),(-1.15,0.7),(-0.98,0.8),(-0.8,0.68),(-0.62,0.78),(-0.48,0.7),(-0.32,0.8),(-0.2,0.66),(-0.08,0.75),
(0.05,0.62),(0.18,0.78),(0.3,0.68),(0.45,0.75),(0.58,0.65),(0.72,0.8),(0.88,0.7),(1.02,0.78),(1.18,0.68),(1.35,0.75),
(-0.4,0.6),(0.12,0.55),(0.65,0.55),
(-1.75,0.35),(-1.6,0.45),(-1.4,0.38),(-1.2,0.45),(-1.02,0.35),(-0.85,0.45),(-0.7,0.38),(-0.55,0.45),(-0.42,0.35),(-0.3,0.42),
(-0.18,0.32),(-0.05,0.45),(0.08,0.36),(0.2,0.44),(0.32,0.35),(0.45,0.42),(0.58,0.33),(0.7,0.45),(0.85,0.38),(1.0,0.44),
(1.15,0.35),(1.3,0.42),(1.48,0.38),(1.65,0.25),(1.8,0.2),(1.88,0.3),(-0.6,0.25),(0.02,0.22),(0.5,0.2),(-0.25,0.2),
(-1.85,-0.1),(-1.65,0.1),(-1.45,0.0),(-1.25,0.12),(-1.1,-0.05),(-0.95,0.08),(-0.8,0.0),(-0.65,0.1),(-0.52,-0.02),(-0.38,0.08),
(-0.25,-0.05),(-0.12,0.1),(0.0,-0.02),(0.12,0.06),(0.25,-0.05),(0.38,0.1),(0.5,0.0),(0.62,0.08),(0.75,-0.05),(0.88,0.1),
(1.02,0.0),(1.15,0.08),(1.3,-0.05),(1.45,0.05),(1.55,0.15),(-0.45,-0.12),(0.3,-0.15),(0.9,-0.15),
(-1.6,-0.3),(-1.42,-0.22),(-1.25,-0.35),(-1.08,-0.25),(-0.92,-0.35),(-0.78,-0.25),(-0.62,-0.32),(-0.48,-0.22),(-0.35,-0.35),(-0.22,-0.25),
(-0.1,-0.32),(0.02,-0.22),(0.15,-0.35),(0.28,-0.28),(0.42,-0.35),(0.55,-0.25),(0.68,-0.35),(0.82,-0.22),(0.95,-0.32),(1.1,-0.25),
(1.25,-0.35),(1.42,-0.28),(1.6,-0.3),(-0.3,-0.45),(0.35,-0.48),(-0.15,-0.12),
(-1.4,-0.65),(-1.22,-0.58),(-1.05,-0.7),(-0.88,-0.6),(-0.72,-0.68),(-0.58,-0.6),(-0.45,-0.72),(-0.32,-0.62),(-0.18,-0.7),(-0.05,-0.6),
(0.08,-0.72),(0.22,-0.62),(0.35,-0.7),(0.48,-0.6),(0.62,-0.72),(0.78,-0.62),(0.92,-0.7),(1.08,-0.6),(1.25,-0.72),(1.4,-0.65),
(-0.6,-0.82),(0.55,-0.85),
(-1.3,-1.05),(-1.12,-0.95),(-0.95,-1.05),(-0.78,-0.95),(-0.62,-1.05),(-0.45,-0.98),(-0.28,-1.08),(-0.12,-0.95),(0.05,-1.05),(0.2,-0.98),
(0.35,-1.08),(0.5,-0.95),(0.65,-1.05),(0.8,-0.98),(0.95,-1.08),(1.1,-0.95),(1.25,-1.05),(1.45,-1.1),(1.55,-1.15),(-0.35,-0.85),(0.3,-0.82),
(-1.2,-1.25),(-1.0,-1.35),(-0.82,-1.28),(-0.65,-1.4),(-0.48,-1.3),(-0.3,-1.42),(-0.12,-1.3),(0.05,-1.4),(0.22,-1.32),(0.4,-1.42),
(0.55,-1.3),(0.72,-1.4),(0.88,-1.3),(1.05,-1.4),(1.15,-1.25),(-0.2,-1.55),(0.3,-1.58),
(-0.95,-1.6),(-0.75,-1.68),(-0.55,-1.62),(-0.35,-1.72),(-0.12,-1.65),(0.1,-1.75),(0.32,-1.6),(0.5,-1.7),(0.72,-1.62),(0.9,-1.55),
(-0.05,-1.85),(0.25,-1.8),
(-0.85,2.21),(-0.34,2.28),(-1.99,0.69),(-1.95,0.4),(-1.8,-0.15),(1.99,-0.5),(1.93,-1.02),(1.19,-2.04),(0.6,-2.39),(-0.05,-2.39),
(0.2,-2.09),(-0.37,-2.02),(-1.12,-1.64),(0.38,-1.92),(-0.05,-1.96),
(-0.3,0.05),(0.1,0.25),(-0.15,-0.5),(0.4,0.55),(-0.5,0.5),(0.2,-0.45),(-0.1,0.3),(0.05,-0.85),(-0.7,-0.45),(0.6,-0.5),
]

pts_d2 = [
(-0.8,1.7),(-0.4,1.7),(0.15,1.65),(0.5,1.72),(0.8,1.7),(-0.1,1.62),
(-1.05,1.4),(-0.85,1.28),(-0.45,1.4),(-0.15,1.35),(0.05,1.3),(0.35,1.42),(0.6,1.3),(0.95,1.38),(1.3,1.25),(-0.65,1.25),
(-1.3,0.95),(-1.1,0.9),(-0.75,0.95),(-0.45,0.92),(-0.28,0.98),(0.22,0.92),(0.5,0.95),(0.68,0.92),(0.82,0.95),(1.15,0.9),(1.42,0.85),(-0.62,0.9),
(-1.65,0.6),(-1.45,0.55),(-1.25,0.62),(-1.05,0.58),(-0.88,0.6),(-0.7,0.55),(-0.55,0.62),(-0.28,0.58),(-0.12,0.6),(0.0,0.52),
(0.25,0.6),(0.38,0.55),(0.52,0.6),(0.8,0.58),(0.95,0.6),(1.1,0.55),(1.28,0.6),(1.5,0.55),(1.72,0.6),
(-1.55,0.22),(-1.35,0.2),(-1.15,0.25),(-0.95,0.22),(-0.8,0.2),(-0.45,0.22),(-0.35,0.25),(-0.12,0.2),(0.15,0.18),(0.28,0.22),
(0.4,0.25),(0.62,0.2),(0.75,0.22),(0.92,0.25),(1.08,0.2),(1.22,0.22),(1.4,0.2),(-0.05,0.12),
(-1.7,-0.2),(-1.5,-0.15),(-1.3,-0.18),(-1.15,-0.15),(-0.98,-0.18),(-0.85,-0.12),(-0.7,-0.15),(-0.58,-0.18),(-0.3,-0.2),(-0.05,-0.15),
(0.08,-0.12),(0.2,-0.18),(0.45,-0.15),(0.6,-0.12),(0.78,-0.18),(1.05,-0.12),(1.2,-0.18),(1.38,-0.15),(1.55,-0.2),(1.7,-0.12),
(-1.5,-0.5),(-1.32,-0.45),(-1.15,-0.5),(-0.98,-0.48),(-0.82,-0.5),(-0.68,-0.55),(-0.52,-0.48),(-0.4,-0.55),(-0.22,-0.5),(-0.08,-0.45),
(0.08,-0.5),(0.25,-0.55),(0.48,-0.45),(0.72,-0.48),(0.85,-0.52),(1.02,-0.48),(1.18,-0.5),(1.35,-0.48),(1.5,-0.52),
(-1.35,-0.85),(-1.18,-0.82),(-1.0,-0.88),(-0.82,-0.82),(-0.7,-0.9),(-0.48,-0.85),(-0.2,-0.88),(-0.05,-0.82),(0.15,-0.85),(0.42,-0.88),
(0.68,-0.85),(0.8,-0.82),(0.98,-0.88),(1.15,-0.82),(1.32,-0.85),(1.48,-0.88),
(-1.35,-1.2),(-1.05,-1.18),(-0.88,-1.15),(-0.72,-1.22),(-0.55,-1.18),(-0.38,-1.2),(-0.2,-1.15),(-0.02,-1.22),(0.12,-1.18),(0.28,-1.2),
(0.45,-1.15),(0.6,-1.22),(0.78,-1.18),(0.92,-1.2),(1.08,-1.15),(1.22,-1.2),(1.4,-1.25),
(-1.05,-1.5),(-0.85,-1.5),(-0.68,-1.55),(-0.5,-1.48),(-0.38,-1.55),(-0.05,-1.52),(0.12,-1.55),(0.42,-1.5),(0.6,-1.55),(0.8,-1.48),
(0.98,-1.5),(1.12,-1.45),
(-0.65,-1.8),(-0.45,-1.82),(-0.22,-1.8),(0.42,-1.78),(0.62,-1.82),(0.8,-1.75),
]

pts_a = pts_a1 + pts_a2 + pts_a_tail
pts_b = pts_b1 + pts_b2
pts_c = pts_c1 + pts_c2
pts_d = pts_d1 + pts_d2

# ---------------- style ----------------
sns.set_style("ticks")
plt.rcParams['font.family'] = ['Liberation Serif', 'DejaVu Serif']
plt.rcParams['mathtext.fontset'] = 'custom'
plt.rcParams['mathtext.rm'] = 'Liberation Serif'
plt.rcParams['axes.unicode_minus'] = False

dot_color = '#3c3c9e'
frame_color = '#444444'

fig = plt.figure(figsize=(8.56, 6.79), dpi=100)
fig.patch.set_facecolor('white')

ax_a = fig.add_axes([0.0888, 0.5773, 0.4825, 0.3756])
ax_b = fig.add_axes([0.6857, 0.5700, 0.3131, 0.3829])
ax_c = fig.add_axes([0.0810, 0.0761, 0.4830, 0.3756])
ax_d = fig.add_axes([0.6842, 0.0663, 0.3146, 0.3840])


def style_axes(ax, xminor, yminor, xpad):
    for sp in ax.spines.values():
        sp.set_visible(True)
        sp.set_color(frame_color)
        sp.set_linewidth(0.9)
    ax.xaxis.set_minor_locator(MultipleLocator(xminor))
    ax.yaxis.set_minor_locator(MultipleLocator(yminor))
    ax.tick_params(which='both', direction='in', top=True, right=True, color=frame_color)
    ax.tick_params(which='major', length=6, width=0.9, labelsize=16, pad=4)
    ax.tick_params(axis='x', which='major', pad=xpad)
    ax.tick_params(which='minor', length=3, width=0.7)
    ax.set_xlabel('')
    ax.set_ylabel('')


def long_panel(ax, pts, s):
    df = pd.DataFrame(pts, columns=['z', 'v'])
    ax.axhline(0, color='black', lw=1.0, zorder=1)
    ax.axvline(0, color='black', lw=1.0, zorder=1)
    sns.scatterplot(data=df, x='z', y='v', ax=ax, color=dot_color, s=s, linewidth=0, zorder=2)
    ax.plot(sep_z, sep_v_up, color='black', lw=3.4, solid_capstyle='round', zorder=3)
    ax.plot(sep_z, sep_v_dn, color='black', lw=3.4, solid_capstyle='round', zorder=3)
    ax.set_xlim(-2.22, 5.08)
    ax.set_ylim(-6, 5)
    ax.set_xticks([-2, -1, 0, 1, 2, 3, 4, 5])
    ax.set_yticks([-6, -4, -2, 0, 2, 4])
    style_axes(ax, 0.2, 0.5, 4)


def trans_panel(ax, pts, s):
    df = pd.DataFrame(pts, columns=['x', 'v'])
    sns.scatterplot(data=df, x='x', y='v', ax=ax, color=dot_color, s=s, linewidth=0, zorder=2)
    ax.add_patch(Ellipse(ell_center, ell_width, ell_height, fill=False, edgecolor='black', lw=3.4, zorder=3))
    ax.set_xlim(-2.5, 2.42)
    ax.set_ylim(-2.62, 2.62)
    ax.set_xticks([-2, -1, 0, 1, 2])
    ax.set_yticks([-2, -1, 0, 1, 2])
    style_axes(ax, 0.2, 0.2, 2)


long_panel(ax_a, pts_a, 9)
trans_panel(ax_b, pts_b, 6)
long_panel(ax_c, pts_c, 9)
trans_panel(ax_d, pts_d, 5)

# texts
fig.text(0.591, 0.981, titles[0], ha='center', va='center', fontsize=16.5)
fig.text(0.591, 0.487, titles[1], ha='center', va='center', fontsize=16.5)
fig.text(0.030, 0.937, panel_tags[0], ha='center', va='center', fontsize=18)
fig.text(0.618, 0.937, panel_tags[1], ha='center', va='center', fontsize=18)
fig.text(0.0253, 0.4526, panel_tags[2], ha='center', va='center', fontsize=18)
fig.text(0.6328, 0.4452, panel_tags[3], ha='center', va='center', fontsize=18)

fig.text(0.2664, 0.5214, 'Δz (mm)', ha='center', va='center', fontsize=18)
fig.text(0.8306, 0.5170, 'Δx (mm)', ha='center', va='center', fontsize=18)
fig.text(0.2648, 0.0236, 'Δz (mm)', ha='center', va='center', fontsize=18)
fig.text(0.8340, 0.0180, 'Δx (mm)', ha='center', va='center', fontsize=18)

fig.text(0.0438, 0.7754, r'Δv$_\mathregular{z}$ (m/s)', ha='center', va='center', rotation=90, fontsize=18)
fig.text(0.6464, 0.7816, r'Δv$_\mathregular{x}$ (m/s)', ha='center', va='center', rotation=90, fontsize=18)
fig.text(0.0302, 0.2747, r'Δv$_\mathregular{z}$ (m/s)', ha='center', va='center', rotation=90, fontsize=18)
fig.text(0.6445, 0.2772, r'Δv$_\mathregular{x}$ (m/s)', ha='center', va='center', rotation=90, fontsize=18)

fig.savefig('out.png', dpi=100, facecolor='white')
